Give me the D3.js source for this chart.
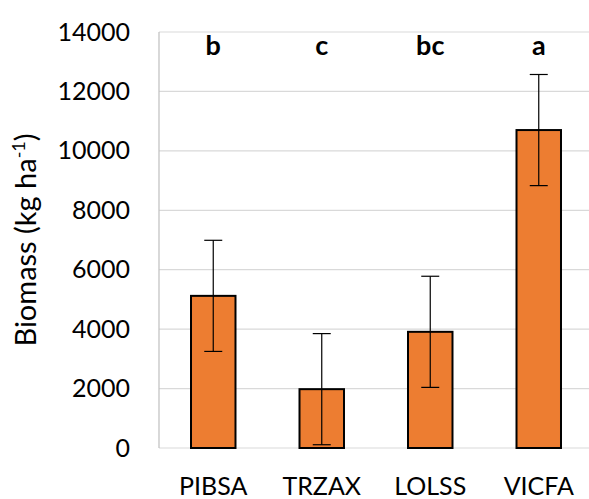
<!DOCTYPE html>
<html lang="en">
<head>
    <meta charset="UTF-8">
    <title>Biomass</title>
    <script src="https://d3js.org/d3.v7.min.js"></script>
    <style>
        body { margin: 0; background: #fff; }
        text { font-family: Lato, "Open Sans", sans-serif; fill: #000; }
    </style>
</head>
<body>
    <svg class="canvas"></svg>
    <script>
        var svg_width = 589, svg_height = 499;

        var species = ['PIBSA', 'TRZAX', 'LOLSS', 'VICFA'];
        var biomass = [5120, 1980, 3910, 10700];
        var errors = [1870, 1870, 1870, 1870];
        var letters = ['b', 'c', 'bc', 'a'];
        var yTicks = [0, 2000, 4000, 6000, 8000, 10000, 12000, 14000];

        var data = species.map(function(s, i) {
            return {name: s, value: biomass[i], err: errors[i], letter: letters[i]};
        });

        // plot box (window.top is read-only, so no "top" here)
        var plotLeft = 159, plotRight = 593, plotTop = 32, plotBottom = 448;

        var xScale = d3.scaleBand().domain(species).range([plotLeft, plotRight]).paddingInner(0.59).paddingOuter(0.295);
        var yScale = d3.scaleLinear().domain([0, 14000]).range([plotBottom, plotTop]);

        var svg = d3.select('svg').attr('width', svg_width).attr('height', svg_height);

        // gridlines
        svg.append('g')
            .selectAll('line')
            .data(yTicks)
            .enter()
            .append('line')
            .attr('x1', plotLeft).attr('x2', plotRight)
            .attr('y1', function(d) { return yScale(d); })
            .attr('y2', function(d) { return yScale(d); })
            .attr('stroke', '#d9d9d9')
            .attr('stroke-width', 1.2);

        // left axis line
        svg.append('line')
            .attr('x1', plotLeft).attr('x2', plotLeft)
            .attr('y1', plotTop).attr('y2', plotBottom)
            .attr('stroke', '#bfbfbf')
            .attr('stroke-width', 1.2);

        // y tick labels
        var yAxis = d3.axisLeft(yScale).tickValues(yTicks).tickFormat(d3.format('d')).tickSize(0).tickPadding(29);
        var gy = svg.append('g').attr('transform', 'translate(' + plotLeft + ',0)').call(yAxis);
        gy.select('.domain').remove();
        gy.selectAll('text')
            .style('font-family', 'Lato, "Open Sans", sans-serif')
            .style('font-size', '25px')
            .attr('fill', '#000');

        // bars
        svg.selectAll('rect.bar')
            .data(data)
            .enter()
            .append('rect')
            .attr('class', 'bar')
            .attr('x', function(d) { return xScale(d.name); })
            .attr('width', xScale.bandwidth())
            .attr('y', function(d) { return yScale(d.value); })
            .attr('height', function(d) { return plotBottom - yScale(d.value); })
            .attr('fill', '#ED7D31')
            .attr('stroke', '#000')
            .attr('stroke-width', 2);

        // error bars
        var eb = svg.selectAll('g.err')
            .data(data)
            .enter()
            .append('g')
            .attr('class', 'err')
            .attr('stroke', '#000')
            .attr('stroke-width', 1.2);

        var cx = function(d) { return xScale(d.name) + xScale.bandwidth() / 2; };
        eb.append('line')
            .attr('x1', cx).attr('x2', cx)
            .attr('y1', function(d) { return yScale(d.value + d.err); })
            .attr('y2', function(d) { return yScale(d.value - d.err); });
        eb.append('line')
            .attr('x1', function(d) { return cx(d) - 9; })
            .attr('x2', function(d) { return cx(d) + 9; })
            .attr('y1', function(d) { return yScale(d.value + d.err); })
            .attr('y2', function(d) { return yScale(d.value + d.err); });
        eb.append('line')
            .attr('x1', function(d) { return cx(d) - 9; })
            .attr('x2', function(d) { return cx(d) + 9; })
            .attr('y1', function(d) { return yScale(d.value - d.err); })
            .attr('y2', function(d) { return yScale(d.value - d.err); });

        // category labels
        var xAxis = d3.axisBottom(xScale).tickSize(0).tickPadding(29);
        var gx = svg.append('g').attr('transform', 'translate(0,' + plotBottom + ')').call(xAxis);
        gx.select('.domain').remove();
        gx.selectAll('text')
            .style('font-family', 'Lato, "Open Sans", sans-serif')
            .style('font-size', '25px')
            .attr('fill', '#000');

        // significance letters
        svg.selectAll('text.letter')
            .data(data)
            .enter()
            .append('text')
            .attr('class', 'letter')
            .attr('x', cx)
            .attr('y', 55)
            .attr('text-anchor', 'middle')
            .style('font-size', '27px')
            .style('font-weight', 'bold')
            .text(function(d) { return d.letter; });

        // y axis title
        var title = svg.append('text')
            .attr('transform', 'translate(36,240) rotate(-90)')
            .attr('text-anchor', 'middle')
            .style('font-size', '29px');
        title.append('tspan').text('Biomass (kg ha');
        title.append('tspan').attr('dy', -11).style('font-size', '18px').text('-1');
        title.append('tspan').attr('dy', 11).text(')');
    </script>
</body>
</html>
